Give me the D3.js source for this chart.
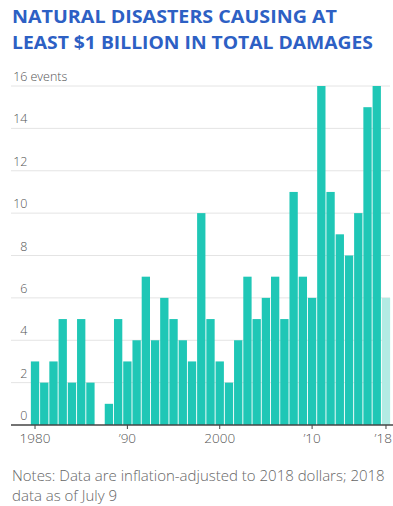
<!DOCTYPE html>
<html>
<head>
<meta charset="utf-8">
<script src="https://cdn.jsdelivr.net/npm/d3@7"></script>
<style>
  body { margin: 0; background: #fff; }
  svg { display: block; }
</style>
</head>
<body>
<div id="chart"></div>
<script>
// Billion-dollar disaster events per year, 1980-2018
var years = d3.range(1980, 2019);
var events = [3, 2, 3, 5, 2, 5, 2, 0, 1, 5,
              3, 4, 7, 4, 6, 5, 4, 3, 10, 5,
              3, 2, 4, 7, 5, 6, 7, 5, 11, 7,
              6, 16, 11, 9, 8, 10, 15, 16, 6];
var partialYear = 2018;
var yTicks = [0, 2, 4, 6, 8, 10, 12, 14, 16];
var xTicks = [1980, 1990, 2000, 2010, 2018];
var xTickLabels = ["1980", "\u201990", "2000", "\u201910", "\u201918"];

var data = years.map((y, i) => ({year: y, count: events[i]}));

var width = 393,
    height = 506;

var svg = d3.select("#chart")
    .append("svg")
    .attr("width", width)
    .attr("height", height);

// Title
var title = svg.append("g")
    .attr("font-family", "'Open Sans', sans-serif")
    .attr("font-weight", 700)
    .attr("font-size", "17px")
    .attr("fill", "#2d60c4");
title.append("text").attr("x", 12).attr("y", 23)
    .attr("textLength", 325).attr("lengthAdjust", "spacingAndGlyphs")
    .text("NATURAL DISASTERS CAUSING AT");
title.append("text").attr("x", 12).attr("y", 48.5)
    .attr("textLength", 361).attr("lengthAdjust", "spacingAndGlyphs")
    .text("LEAST $1 BILLION IN TOTAL DAMAGES");

var x = d3.scaleBand()
    .domain(years)
    .range([30.4, 390.6])
    .paddingInner(0.1)
    .paddingOuter(0.05);

var y = d3.scaleLinear()
    .domain([0, 16])
    .range([425, 86]);

// Gridlines
svg.selectAll("line.grid")
    .data(yTicks.filter(d => d > 0))
    .enter()
    .append("line")
    .attr("class", "grid")
    .attr("x1", 11)
    .attr("x2", 390)
    .attr("y1", d => y(d))
    .attr("y2", d => y(d))
    .attr("stroke", "#e4e4e4")
    .attr("stroke-width", 1);

// Y labels
svg.selectAll("text.ylab")
    .data(yTicks)
    .enter()
    .append("text")
    .attr("class", "ylab")
    .attr("x", 27.5)
    .attr("y", d => y(d) - 5)
    .attr("text-anchor", "end")
    .attr("font-family", "'Open Sans', sans-serif")
    .attr("font-weight", 300)
    .attr("font-size", "12.5px")
    .attr("fill", "#555")
    .text(d => d);
svg.append("text")
    .attr("x", 30.5)
    .attr("y", y(16) - 5)
    .attr("font-family", "'Open Sans', sans-serif")
    .attr("font-weight", 300)
    .attr("font-size", "12.5px")
    .attr("fill", "#555")
    .text("events");

// Bars
svg.selectAll("rect")
    .data(data)
    .enter()
    .append("rect")
    .attr("x", d => x(d.year))
    .attr("y", d => y(d.count))
    .attr("width", x.bandwidth())
    .attr("height", d => y(0) - y(d.count))
    .attr("fill", d => d.year === partialYear ? "#b3ebe4" : "#1fc7b6");

// X axis
var xAxis = d3.axisBottom(x)
    .tickValues(xTicks)
    .tickFormat((d, i) => xTickLabels[i])
    .tickSize(4)
    .tickSizeOuter(0);

var gx = svg.append("g")
    .attr("transform", "translate(0," + y(0) + ")")
    .call(xAxis);
gx.select(".domain").remove();
gx.append("line")
    .attr("x1", 11).attr("x2", 393)
    .attr("stroke", "#444").attr("stroke-width", 1.3);
gx.selectAll(".tick line").attr("stroke", "#444");
gx.selectAll(".tick text")
    .attr("y", 8)
    .attr("font-family", "'Open Sans', sans-serif")
    .attr("font-weight", 300)
    .attr("font-size", "13.5px")
    .attr("fill", "#555");
// keep the last label inside the frame
gx.selectAll(".tick text")
    .filter(d => d === 2018)
    .attr("text-anchor", "end")
    .attr("x", 6);

// Notes
var notes = svg.append("g")
    .attr("font-family", "'Open Sans', sans-serif")
    .attr("font-weight", 300)
    .attr("font-size", "15px")
    .attr("fill", "#666");
notes.append("text").attr("x", 12).attr("y", 481)
    .text("Notes: Data are inflation-adjusted to 2018 dollars; 2018");
notes.append("text").attr("x", 12).attr("y", 501)
    .text("data as of July 9");
</script>
</body>
</html>
